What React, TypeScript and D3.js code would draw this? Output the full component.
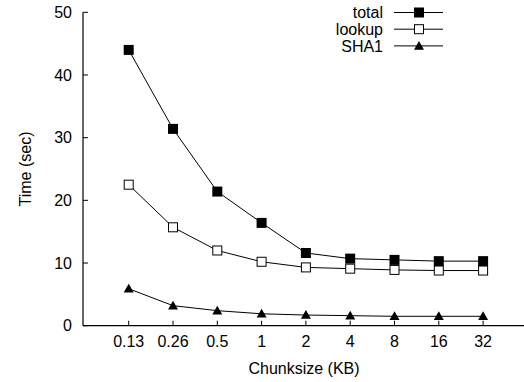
import React from "react";
import * as d3 from "d3";

const categories = ["0.13", "0.26", "0.5", "1", "2", "4", "8", "16", "32"];
const totalValues = [44.0, 31.4, 21.4, 16.4, 11.6, 10.7, 10.5, 10.3, 10.3];
const lookupValues = [22.5, 15.7, 12.0, 10.2, 9.3, 9.1, 8.9, 8.8, 8.8];
const sha1Values = [5.9, 3.2, 2.4, 1.9, 1.7, 1.6, 1.5, 1.5, 1.5];
const yTicks = [0, 10, 20, 30, 40, 50];
const seriesNames = ["total", "lookup", "SHA1"];

const W = 524;
const H = 382;
const FONT = "'Liberation Sans', Arial, Helvetica, sans-serif";

function Marker({ kind, x, y }: { kind: string; x: number; y: number }) {
  if (kind === "total") {
    return <rect x={x - 5} y={y - 5} width={10} height={10} fill="#000" />;
  }
  if (kind === "lookup") {
    return <rect x={x - 4.5} y={y - 4.5} width={9} height={9} fill="#fff" stroke="#000" strokeWidth={1} />;
  }
  const s = 5;
  return <path d={`M${x},${y - s}L${x + s},${y + s * 0.75}L${x - s},${y + s * 0.75}Z`} fill="#000" />;
}

export default function App() {
  const x = d3.scaleLinear().domain([-1, 9]).range([84.4, 527.4]);
  const y = d3.scaleLinear().domain([0, 50]).range([325.7, 12.3]);
  const line = d3
    .line<number>()
    .x((_, i) => x(i))
    .y((d) => y(d));
  const series = [
    { name: "total", values: totalValues },
    { name: "lookup", values: lookupValues },
    { name: "SHA1", values: sha1Values },
  ];
  const axisX0 = 83;
  return (
    <svg
      width={W}
      height={H}
      style={{ position: "absolute", left: 0, top: 0, background: "#fff" }}
      fontFamily={FONT}
    >
      {/* axes */}
      <line x1={axisX0} y1={y(50)} x2={axisX0} y2={y(0)} stroke="#000" strokeWidth={1.2} />
      <line x1={axisX0} y1={y(0)} x2={W} y2={y(0)} stroke="#000" strokeWidth={1.2} />
      {yTicks.map((t) => (
        <g key={t}>
          <line x1={axisX0} x2={axisX0 + 5} y1={y(t)} y2={y(t)} stroke="#000" strokeWidth={1} />
          <text x={72} y={y(t)} dy="0.36em" textAnchor="end" fontSize={16}>
            {t}
          </text>
        </g>
      ))}
      {categories.map((c, i) => (
        <g key={c}>
          <line x1={x(i)} x2={x(i)} y1={y(0)} y2={y(0) - 5} stroke="#000" strokeWidth={1} />
          <text x={x(i)} y={347} textAnchor="middle" fontSize={16}>
            {c}
          </text>
        </g>
      ))}
      <text x={304} y={374} textAnchor="middle" fontSize={16}>
        Chunksize (KB)
      </text>
      <text
        transform={`translate(31,169) rotate(-90)`}
        textAnchor="middle"
        fontSize={16}
      >
        Time (sec)
      </text>
      {/* series */}
      {series.map((s) => (
        <g key={s.name}>
          <path d={line(s.values) || ""} fill="none" stroke="#000" strokeWidth={1} />
          {s.values.map((v, i) => (
            <Marker key={i} kind={s.name} x={x(i)} y={y(v)} />
          ))}
        </g>
      ))}
      {/* legend */}
      {seriesNames.map((n, i) => {
        const ly = 12.5 + i * 16.7;
        return (
          <g key={n}>
            <text x={383} y={ly} dy="0.36em" textAnchor="end" fontSize={16}>
              {n}
            </text>
            <line x1={394} x2={443} y1={ly} y2={ly} stroke="#000" strokeWidth={1} />
            <Marker kind={n} x={419} y={ly} />
          </g>
        );
      })}
    </svg>
  );
}
